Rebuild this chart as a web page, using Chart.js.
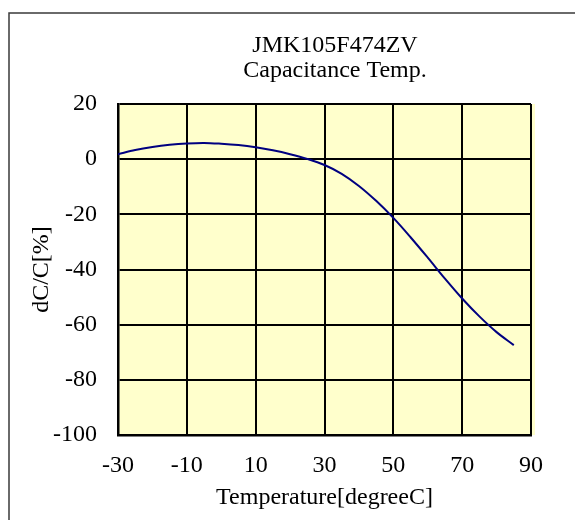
<!DOCTYPE html>
<html>
<head>
<meta charset="utf-8">
<script src="https://cdn.jsdelivr.net/npm/chart.js@4/dist/chart.umd.min.js"></script>
<style>
  html, body { margin: 0; padding: 0; background: #fff; }
  #wrap { width: 575px; height: 520px; }
</style>
</head>
<body>
<div id="wrap"><canvas id="myChart" width="575" height="520"></canvas></div>
<script>
// values
var temps = [-30, -25, -20, -15, -10, -5, 0, 5, 10, 15, 20, 25, 30, 35, 40, 45, 50, 55, 60, 65, 70, 75, 80, 85]
var dcc = [1.8, 3.3, 4.4, 5.2, 5.7, 5.9, 5.6, 5.1, 4.3, 3.2, 1.8, 0.1, -2.1, -5.3, -9.7, -15.1, -21.3, -28.3, -35.7, -43.3, -50.5, -57.0, -62.7, -67.4]
var titleLines = ["JMK105F474ZV", "Capacitance Temp."]
var xTitle = "Temperature[degreeC]"
var yTitle = "dC/C[%]"

var serif = "'Liberation Serif', 'Times New Roman', serif"

var points = []
temps.forEach(function (t, i) {
  points.push({ x: t, y: dcc[i] })
})

// outer frame, plot background and the two title lines
var frame = {
  id: "frame",
  beforeDraw: function (chart) {
    var ctx = chart.ctx
    var a = chart.chartArea
    ctx.save()
    ctx.fillStyle = "#ffffff"
    ctx.fillRect(0, 0, chart.width, chart.height)
    ctx.strokeStyle = "#3a3a3a"
    ctx.lineWidth = 1.5
    ctx.strokeRect(9, 13, chart.width + 20, chart.height + 20)
    ctx.fillStyle = "#ffffcc"
    ctx.fillRect(a.left, a.top, a.right - a.left + 4, a.bottom - a.top)
    ctx.fillStyle = "#000000"
    ctx.font = "24px " + serif
    ctx.textAlign = "center"
    ctx.textBaseline = "alphabetic"
    ctx.fillText(titleLines[0], 335, 52)
    ctx.fillText(titleLines[1], 335, 77)
    ctx.restore()
  }
}

var chart = new Chart(document.getElementById("myChart").getContext("2d"), {
  type: "line",
  data: {
    datasets: [
      {
        label: titleLines[1],
        data: points,
        borderColor: "#000080",
        borderWidth: 2,
        pointRadius: 0,
        tension: 0.35,
        fill: false
      }
    ]
  },
  options: {
    responsive: false,
    animation: false,
    devicePixelRatio: 1,
    layout: { padding: { top: 104, right: 44, bottom: 0, left: 0 } },
    plugins: {
      legend: { display: false },
      title: { display: false },
      tooltip: { enabled: false }
    },
    scales: {
      x: {
        type: "linear",
        min: -30,
        max: 90,
        ticks: { stepSize: 20, color: "#000", font: { family: serif, size: 24 }, padding: 16, maxRotation: 0 },
        grid: { color: "#000", lineWidth: 2, drawTicks: false },
        border: { color: "#000", width: 2.5 },
        title: { display: true, text: xTitle, color: "#000", font: { family: serif, size: 24 }, padding: { top: 0, bottom: 8 } },
        afterFit: function (s) { s.height = 85 }
      },
      y: {
        min: -100,
        max: 20,
        ticks: { stepSize: 20, color: "#000", font: { family: serif, size: 24 }, padding: 21 },
        grid: { color: "#000", lineWidth: 2, drawTicks: false },
        border: { color: "#000", width: 2.5 },
        title: { display: true, text: yTitle, color: "#000", font: { family: serif, size: 24 }, padding: { top: 27, bottom: 0 } },
        afterFit: function (s) { s.width = 118 }
      }
    }
  },
  plugins: [frame]
})
</script>
</body>
</html>
